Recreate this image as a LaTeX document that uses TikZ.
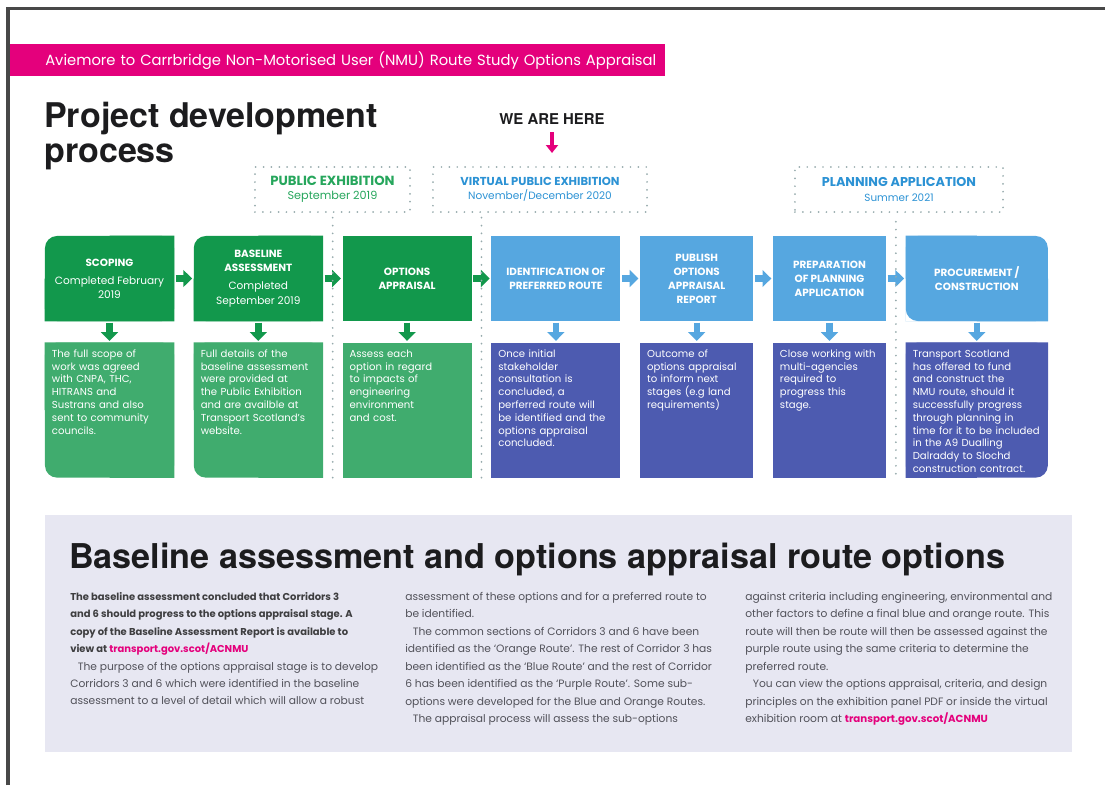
\documentclass[tikz,border=0pt]{standalone}
\usepackage{fontspec}
\setmainfont{Poppins}
\newfontfamily\headfont{TeX Gyre Heros}
\usetikzlibrary{positioning}
\usetikzlibrary{arrows.meta}
\usetikzlibrary{calc}
\usetikzlibrary{backgrounds}

\definecolor{nmupink}{RGB}{228,0,124}
\definecolor{stgreen}{RGB}{18,152,76}
\definecolor{dsgreen}{RGB}{64,172,110}
\definecolor{stblue}{RGB}{86,167,224}
\definecolor{dsblue}{RGB}{77,91,176}
\definecolor{panel}{RGB}{231,231,242}
\definecolor{dotgray}{RGB}{150,170,172}
\definecolor{exgreen}{RGB}{38,166,92}
\definecolor{exblue}{RGB}{44,146,212}
\definecolor{titleblack}{RGB}{28,28,30}
\definecolor{bodygray}{RGB}{82,82,90}
\definecolor{framegray}{RGB}{72,72,72}

\newcommand{\stitle}[1]{{\fontsize{7.4}{10}\selectfont\bfseries #1}}
\newcommand{\lead}[1]{{\fontsize{7.1}{12.4}\selectfont\bfseries\color{titleblack!85}#1}}

\begin{document}
\begin{tikzpicture}[
    x=0.025cm, y=-0.025cm,
    stage/.style={align=center, rectangle, fill=#1, text=white, inner sep=0pt, minimum height=2.125cm, font=\fontsize{7.5}{10}\selectfont},
    desc/.style={align=left, rectangle, fill=#1, text=white, inner xsep=0.175cm, inner ysep=0.17cm, text height=0.2cm, text depth=2.835cm, font=\fontsize{7.2}{9.1}\selectfont},
    expo/.style={align=center, rectangle, draw=dotgray, line width=1.4pt, dash pattern=on 0pt off 5.6pt, line cap=round, text=#1, minimum height=1.125cm},
    divider/.style={draw=dotgray, line width=1.4pt, dash pattern=on 0pt off 5.6pt, line cap=round},
    flow/.style={draw=#1, line width=0.16cm, shorten <=1pt, shorten >=1pt, -{Triangle[width=0.42cm, length=0.22cm]}},
    column/.style={align=left, anchor=north west, inner sep=0pt, text=bodygray, font=\fontsize{7.6}{12.4}\selectfont}
]
    \useasboundingbox (0,0) rectangle (1105,785);
    \draw[framegray, line width=0.075cm] (8,785) -- (8,8) -- (1105,8);

    \node[anchor=north west, fill=nmupink, text=white, minimum height=0.8cm, text width=14.625cm, inner xsep=0.875cm, align=left, font=\fontsize{10.5}{12}\selectfont] (bar) at (10,44) {\mbox{Aviemore to Carrbridge Non-Motorised User (NMU) Route Study Options Appraisal}};
    \node[anchor=base west, align=left, inner sep=0pt, text=titleblack, font=\headfont\bfseries\fontsize{24.2}{24.5}\selectfont] (title) at (44,162) {Project development\\ process};

    \node[text=titleblack, font=\headfont\bfseries\fontsize{10.6}{12}\selectfont] (here) at (552,119) {WE ARE HERE};
    \coordinate (herept) at (552,153);
    \draw[draw=nmupink, line width=0.08cm, shorten <=2pt, -{Triangle[width=0.3cm, length=0.2cm]}] (here) -- (herept);

    \node[expo=exgreen, minimum width=3.875cm] (E1) at (332.5,189.5) {{\fontsize{9.4}{10}\selectfont\bfseries PUBLIC EXHIBITION}\\[-2pt] {\fontsize{8}{9}\selectfont September 2019}};
    \node[expo=exblue, minimum width=5.35cm] (E2) at (540,189.5) {{\fontsize{8.2}{10}\selectfont\bfseries VIRTUAL PUBLIC EXHIBITION}\\[-2pt] {\fontsize{7.5}{9}\selectfont November/December 2020}};
    \node[expo=exblue, minimum width=5.2cm] (E3) at (899,189.5) {{\fontsize{9.1}{10}\selectfont\bfseries PLANNING APPLICATION}\\[-2pt] {\fontsize{7.4}{9}\selectfont Summer 2021}};

    % stages
    \node[stage=stgreen, rounded corners=0.3cm, minimum width=3.225cm] (S1) at (109.5,278.5) {\stitle{SCOPING}\\[3pt] Completed February\\ 2019};
    \node[stage=stgreen, rounded corners=0.3cm, minimum width=3.225cm] (S2) [right=0.48cm of S1] {\stitle{BASELINE}\\ \stitle{ASSESSMENT}\\[3pt] Completed\\ September 2019};
    \node[stage=stgreen, minimum width=3.225cm] (S3) [right=0.48cm of S2] {\stitle{OPTIONS}\\ \stitle{APPRAISAL}};
    \node[stage=stblue, minimum width=3.225cm] (S4) [right=0.48cm of S3] {\stitle{IDENTIFICATION OF}\\ \stitle{PREFERRED ROUTE}};
    \node[stage=stblue, minimum width=2.825cm] (S5) [right=0.48cm of S4] {\stitle{PUBLISH}\\ \stitle{OPTIONS}\\ \stitle{APPRAISAL}\\ \stitle{REPORT}};
    \node[stage=stblue, minimum width=2.825cm] (S6) [right=0.48cm of S5] {\stitle{PREPARATION}\\ \stitle{OF PLANNING}\\ \stitle{APPLICATION}};
    \node[stage=stblue, rounded corners=0.3cm, minimum width=3.55cm] (S7) [right=0.48cm of S6] {\stitle{PROCUREMENT /}\\ \stitle{CONSTRUCTION}};

    % descriptions
    \node[desc=dsgreen, rounded corners=0.3cm, text width=2.875cm, below=0.525cm of S1] (D1) {The full scope of\\ work was agreed\\ with CNPA, THC,\\ HITRANS and\\ Sustrans and also\\ sent to community\\ councils.};
    \node[desc=dsgreen, rounded corners=0.3cm, text width=2.875cm, below=0.525cm of S2] (D2) {Full details of the\\ baseline assessment\\ were provided at\\ the Public Exhibition\\ and are availble at\\ Transport Scotland's\\ website.};
    \node[desc=dsgreen, text width=2.875cm, below=0.525cm of S3] (D3) {Assess each\\ option in regard\\ to impacts of\\ engineering\\ environment\\ and cost.};
    \node[desc=dsblue, text width=2.875cm, below=0.525cm of S4] (D4) {Once initial\\ stakeholder\\ consultation is\\ concluded, a\\ perferred route will\\ be identified and the\\ options appraisal\\ concluded.};
    \node[desc=dsblue, text width=2.475cm, below=0.525cm of S5] (D5) {Outcome of\\ options appraisal\\ to inform next\\ stages (e.g land\\ requirements)};
    \node[desc=dsblue, text width=2.475cm, below=0.525cm of S6] (D6) {Close working with\\ multi-agencies\\ required to\\ progress this\\ stage.};
    \node[desc=dsblue, rounded corners=0.3cm, text width=3.2cm, below=0.525cm of S7] (D7) {Transport Scotland\\ has offered to fund\\ and construct the\\ NMU route, should it\\ successfully progress\\ through planning in\\ time for it to be included\\ in the A9 Dualling\\ Dalraddy to Slochd\\ construction contract.};

    \begin{scope}[on background layer]
        \fill[stgreen] (S1.north) rectangle (S1.south east) (S1.west) rectangle (S1.south);
        \fill[stgreen] (S2.north) rectangle (S2.south east) (S2.west) rectangle (S2.south);
        \fill[dsgreen] (D1.north west) rectangle (D1.east) (D1.south) rectangle (D1.east);
        \fill[dsgreen] (D2.north west) rectangle (D2.east) (D2.south) rectangle (D2.east);
        \fill[stblue] (S7.south west) rectangle (S7.east) (S7.north west) rectangle (S7.south);
        \fill[dsblue] (D7.north west) rectangle (D7.east) (D7.north west) rectangle (D7.south);
    \end{scope}

    \draw[flow=stgreen] (S1) -- (S2);
    \draw[flow=stgreen] (S2) -- (S3);
    \draw[flow=stgreen] (S3) -- (S4);
    \draw[flow=stblue] (S4) -- (S5);
    \draw[flow=stblue] (S5) -- (S6);
    \draw[flow=stblue] (S6) -- (S7);

    \draw[flow=stgreen] (S1) -- (D1);
    \draw[flow=stgreen] (S2) -- (D2);
    \draw[flow=stgreen] (S3) -- (D3);
    \draw[flow=stblue] (S4) -- (D4);
    \draw[flow=stblue] (S5) -- (D5);
    \draw[flow=stblue] (S6) -- (D6);
    \draw[flow=stblue] (S7) -- (D7);

    \coordinate (V1) at ($(S2.north east)!0.5!(S3.north west)$);
    \coordinate (V2) at ($(S3.north east)!0.5!(S4.north west)$);
    \coordinate (V3) at ($(S6.north east)!0.5!(S7.north west)$);
    \draw[divider] ([yshift=0.45cm]V1) -- (V1 |- D3.south);
    \draw[divider] ([yshift=0.45cm]V2) -- (V2 |- D4.south);
    \draw[divider] ([yshift=0.35cm]V3) -- (V3 |- D7.south);

    % route options panel
    \fill[panel] (45,515) rectangle (1072,752);
    \node[anchor=base west, inner sep=0pt, text=titleblack, font=\headfont\bfseries\fontsize{24.3}{28}\selectfont] (heading) at (69,568) {Baseline assessment and options appraisal route options};

    \node[column] (C1) at (70,592) {\lead{The baseline assessment concluded that Corridors 3}\\
        \lead{and 6 should progress to the options appraisal stage. A}\\
        \lead{copy of the Baseline Assessment Report is available to}\\
        \lead{view at \textcolor{nmupink}{transport.gov.scot/ACNMU}}\\
        \hspace*{0.7em}The purpose of the options appraisal stage is to develop\\
        Corridors 3 and 6 which were identified in the baseline\\
        assessment to a level of detail which will allow a robust};
    \node[column] (C2) at (405,592) {assessment of these options and for a preferred route to\\
        be identified.\\
        \hspace*{0.7em}The common sections of Corridors 3 and 6 have been\\
        identified as the ‘Orange Route’. The rest of Corridor 3 has\\
        been identified as the ‘Blue Route’ and the rest of Corridor\\
        6 has been identified as the ‘Purple Route’. Some sub-\\
        options were developed for the Blue and Orange Routes.\\
        \hspace*{0.7em}The appraisal process will assess the sub-options};
    \node[column] (C3) at (745,592) {against criteria including engineering, environmental and\\
        other factors to define a final blue and orange route. This\\
        route will then be route will then be assessed against the\\
        purple route using the same criteria to determine the\\
        preferred route.\\
        \hspace*{0.7em}You can view the options appraisal, criteria, and design\\
        principles on the exhibition panel PDF or inside the virtual\\
        exhibition room at {\fontsize{7.3}{12.4}\selectfont\bfseries\color{nmupink}transport.gov.scot/ACNMU}};

\end{tikzpicture}
\end{document}
